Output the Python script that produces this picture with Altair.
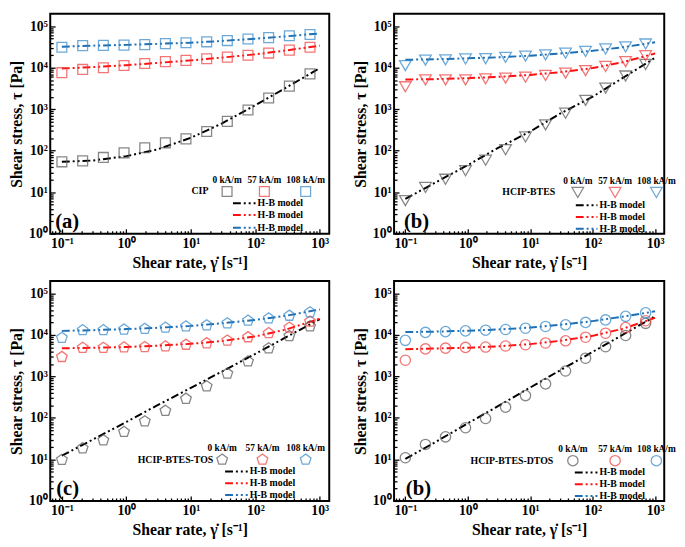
import altair as alt
import pandas as pd

# ---------------- data ----------------
rate = [0.1, 0.21, 0.44, 0.92, 1.93, 4.03, 8.4, 17.6, 36.8, 77, 161, 337, 705]
model_rate = [0.1, 0.3, 1, 3, 10, 30, 100, 300, 1000]
fields = ["0 kA/m", "57 kA/m", "108 kA/m"]

# (a) CIP
a_pts_0 = [54, 57, 69, 89, 118, 155, 193, 290, 510, 960, 1870, 3600, 7100]
a_pts_57 = [7600, 9100, 10000, 11300, 12600, 14000, 15000, 16500, 18000, 20000, 22500, 26500, 31000]
a_pts_108 = [31000, 34000, 34500, 35000, 36000, 38000, 40000, 42000, 45000, 49000, 53000, 59000, 63000]
a_fit_0 = [54, 58, 74, 107, 205, 450, 1250, 3300, 9800]
a_fit_57 = [9600, 10300, 11500, 13000, 15000, 17500, 21000, 26000, 34000]
a_fit_108 = [32000, 34000, 35500, 37500, 40000, 44000, 50000, 57000, 67000]

# (b) HCIP-BTES
b_pts_0 = [6.3, 13, 20.5, 33, 59, 106, 214, 420, 800, 1630, 3230, 6300, 12000]
b_pts_57 = [3470, 5100, 5100, 5100, 5400, 5600, 5900, 6500, 7400, 8500, 10700, 14000, 19400]
b_pts_108 = [11200, 15200, 15500, 16200, 16600, 17800, 19000, 20400, 22400, 24600, 28200, 31600, 37200]
b_fit_0 = [6.9, 17, 45, 115, 290, 780, 2000, 5600, 17400]
b_fit_57 = [5200, 5300, 5600, 6000, 6700, 7800, 9800, 13500, 22000]
b_fit_108 = [15500, 16000, 16800, 17800, 19500, 22000, 25500, 31000, 41000]

# (c) HCIP-BTES-TOS
c_pts_0 = [9.8, 18.6, 29, 46, 83, 149, 290, 580, 1170, 2300, 4750, 9400, 16000]
c_pts_57 = [2940, 4900, 4900, 5000, 5100, 5300, 5800, 6300, 7300, 8800, 11000, 15000, 21000]
c_pts_108 = [8500, 13000, 13000, 13500, 14000, 15000, 16000, 17000, 19000, 22000, 25000, 29000, 35000]
c_fit_0 = [12.3, 30, 80, 200, 530, 1300, 3500, 8800, 24000]
c_fit_57 = [4750, 4900, 5100, 5500, 6100, 7100, 9200, 13500, 24600]
c_fit_108 = [12500, 13000, 13800, 14800, 16500, 19000, 23000, 29000, 41000]

# (d) HCIP-BTES-DTOS
d_pts_0 = [11, 23, 35, 58, 97, 182, 345, 660, 1350, 2750, 5200, 9700, 19000]
d_pts_57 = [2450, 4600, 4800, 5000, 5100, 5400, 5800, 6400, 7200, 8800, 11000, 15000, 22000]
d_pts_108 = [7400, 11500, 12000, 12500, 13000, 13500, 14500, 16000, 17500, 20000, 23000, 28000, 34000]
d_fit_0 = [10.3, 26, 74, 190, 540, 1400, 3900, 10000, 28000]
d_fit_57 = [4500, 4700, 4900, 5300, 6000, 7200, 9500, 14000, 25700]
d_fit_108 = [11700, 12000, 12600, 13500, 15000, 17500, 21500, 27500, 37000]

x_major = [0.1, 1, 10, 100, 1000]
y_major = [1, 10, 100, 1000, 10000, 100000]
x_labels = ["10⁻¹", "10⁰", "10¹", "10²", "10³"]
y_labels = ["10⁰", "10¹", "10²", "10³", "10⁴", "10⁵"]

# ---------------- style ----------------
FONT = "Liberation Serif"
marker_colors = ["#555555", "#ee3d3d", "#2f86c8"]
line_colors = ["#000000", "#ff1010", "#1f6fb5"]
DASH = [8, 3, 2, 3, 2, 3]
PENTAGON = "M0,-1L0.951,-0.309L0.588,0.809L-0.588,0.809L-0.951,-0.309Z"
H = 224

x_minor = [m * d for d in [0.01, 0.1, 1, 10, 100] for m in range(2, 10)]
x_minor = [v for v in x_minor if 0.066 <= v <= 1400]
y_minor = [m * d for d in [1, 10, 100, 1000, 10000] for m in range(2, 10)]
x_ticks = sorted(x_major + x_minor)
y_ticks = sorted(y_major + y_minor)


def label_expr(values, labels):
    expr = "''"
    for v, l in reversed(list(zip(values, labels))):
        expr = f"datum.value == {v} ? '{l}' : ({expr})"
    return expr


def major_test(values):
    return " || ".join(f"datum.value == {v}" for v in values)


x_axis = alt.Axis(
    title="Shear rate, γ̇ [s⁻¹]", values=x_ticks, labelExpr=label_expr(x_major, x_labels),
    labelOverlap=False, labelPadding=8, titlePadding=2,
    tickSize={"condition": {"test": major_test(x_major), "value": -5}, "value": -3},
)
y_axis = alt.Axis(
    title="Shear stress, τ [Pa]", values=y_ticks, labelExpr=label_expr(y_major, y_labels),
    labelOverlap=False, labelPadding=8, titlePadding=4,
    tickSize={"condition": {"test": major_test(y_major), "value": -5}, "value": -3},
)
x_scale = alt.Scale(type="log", domain=[0.066, 1400])
y_scale = alt.Scale(type="log", domain=[1, 200000])

one = alt.Data(values=[{"k": 0}])


def text_item(txt, x, y, size, align="center"):
    return alt.Chart(one).mark_text(
        font=FONT, fontWeight="bold", fontSize=size, align=align, baseline="middle", color="black"
    ).encode(x=alt.value(x), y=alt.value(y), text=alt.value(txt))


leg_label_x = {"(a)": 5, "(b)": 10, "(c)": 6, "(b) ": 12}


def panel(name, label, shape, msize, pts, fits, W, leg):
    pt_rows = []
    fit_rows = []
    for f, series in zip(fields, pts):
        pt_rows += [{"x": x, "y": y, "field": f} for x, y in zip(rate, series)]
    for f, series in zip(fields, fits):
        fit_rows += [{"x": x, "y": y, "fit": f} for x, y in zip(model_rate, series)]

    lines = alt.Chart(pd.DataFrame(fit_rows)).mark_line(strokeWidth=2, strokeDash=DASH).encode(
        x=alt.X("x:Q", scale=x_scale, axis=x_axis),
        y=alt.Y("y:Q", scale=y_scale, axis=y_axis),
        color=alt.Color("fit:N", scale=alt.Scale(domain=fields, range=line_colors), legend=None),
    )
    points = alt.Chart(pd.DataFrame(pt_rows)).mark_point(
        shape=shape, size=msize, filled=False, strokeWidth=1.3
    ).encode(
        x=alt.X("x:Q", scale=x_scale, axis=x_axis),
        y=alt.Y("y:Q", scale=y_scale, axis=y_axis),
        stroke=alt.Stroke("field:N", scale=alt.Scale(domain=fields, range=marker_colors), legend=None),
    )
    layers = [lines, points]
    hx, hy, my, name_x, lx1, lx2, ly = leg
    for f, x in zip(fields, hx):
        layers.append(text_item(f, x, hy, 9.5))
    layers.append(text_item(name, name_x, my, 10, align="right"))
    for c, x in zip(marker_colors, hx):
        layers.append(alt.Chart(one).mark_point(
            shape=shape, size=msize, filled=False, strokeWidth=1.3, stroke=c
        ).encode(x=alt.value(x), y=alt.value(my)))
    for c, y in zip(line_colors, ly):
        layers.append(alt.Chart(one).mark_rule(strokeWidth=2, strokeDash=DASH, color=c).encode(
            x=alt.value(lx1), x2=alt.value(lx2), y=alt.value(y)))
        layers.append(text_item("H-B model", lx2 + 2, y, 10, align="left"))
    layers.append(alt.Chart(one).mark_text(
        font=FONT, fontWeight="bold", fontSize=21, align="left", baseline="middle", color="black"
    ).encode(x=alt.value(leg_label_x[label]), y=alt.value(212), text=alt.value(label)))
    return alt.layer(*layers).properties(width=W, height=H)


pa = panel("CIP", "(a)", "square", 100, [a_pts_0, a_pts_57, a_pts_108],
           [a_fit_0, a_fit_57, a_fit_108], 284,
           ([180, 218, 260], 169, 181, 161, 186, 209, [193, 205, 218]))
pb = panel("HCIP-BTES", "(b)", "triangle-down", 140, [b_pts_0, b_pts_57, b_pts_108],
           [b_fit_0, b_fit_57, b_fit_108], 275,
           ([187, 225, 267], 170, 182, 164, 185, 207, [195, 207, 219]))
pc = panel("HCIP-BTES-TOS", "(c)", PENTAGON, 130, [c_pts_0, c_pts_57, c_pts_108],
           [c_fit_0, c_fit_57, c_fit_108], 284,
           ([175, 216, 260], 170, 182, 166, 178, 201, [194, 206, 218]))
pd_ = panel("HCIP-BTES-DTOS", "(b) ", "circle", 110, [d_pts_0, d_pts_57, d_pts_108],
            [d_fit_0, d_fit_57, d_fit_108], 275,
            ([182, 225, 267], 171, 183, 162, 184, 207, [195, 207, 219]))

chart = alt.vconcat(
    alt.hconcat(pa, pb, spacing=22),
    alt.hconcat(pc, pd_, spacing=22),
    spacing=9,
).properties(
    padding={"left": 0, "top": 0, "right": 0, "bottom": 0}
).configure_view(
    stroke="black", strokeWidth=2
).configure_axis(
    labelFont=FONT, labelFontWeight="bold", labelFontSize=14, labelColor="black",
    titleFont=FONT, titleFontWeight="bold", titleFontSize=16, titleColor="black",
    domain=False, tickColor="black", tickWidth=1.3, grid=False,
).configure_text(font=FONT)

chart.save("out.html", embed_options={"renderer": "svg", "actions": False})
